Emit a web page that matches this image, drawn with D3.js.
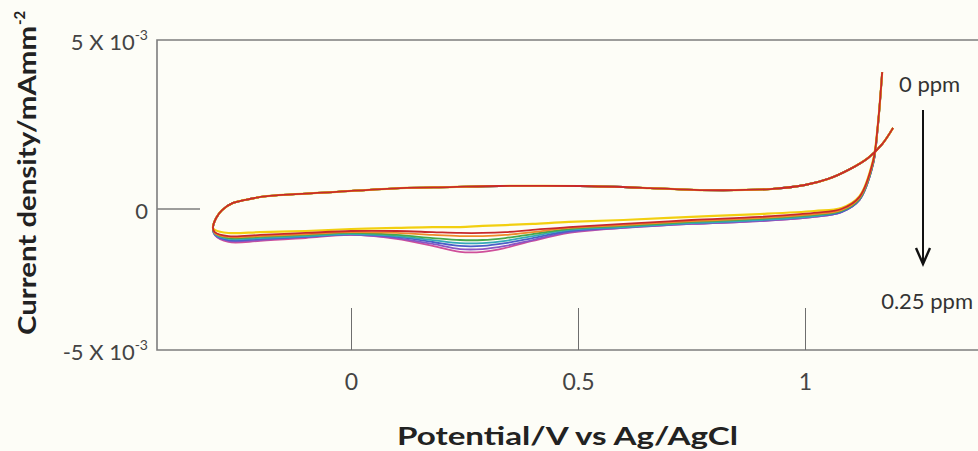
<!DOCTYPE html>
<html>
<head>
<meta charset="utf-8">
<script src="https://cdn.jsdelivr.net/npm/d3@7"></script>
<style>
  html, body { margin: 0; padding: 0; background: #fdfdf7; }
  svg { display: block; font-family: Lato, "Open Sans", sans-serif; }
</style>
</head>
<body>
<svg id="chart" width="978" height="451"></svg>
<script>
// potential (V vs Ag/AgCl) of the shared upper (anodic) branch, right end -> left tip
const upperE = [1.194, 1.170, 1.139, 1.099, 1.051, 1.000, 0.923, 0.769, 0.659, 0.504, 0.328, 0.218, 0.108, -0.040, -0.185, -0.233, -0.260, -0.284, -0.297, -0.304];
const upperJ = [2.40, 1.92, 1.51, 1.18, 0.89, 0.71, 0.59, 0.56, 0.62, 0.68, 0.68, 0.65, 0.62, 0.50, 0.38, 0.27, 0.18, -0.04, -0.32, -0.67];

// potentials of the lower branch, left tip -> steep rise on the right
const lowerE = [-0.30, -0.27, -0.20, -0.10, 0.00, 0.10, 0.18, 0.24, 0.29, 0.34, 0.40, 0.48, 0.60, 0.75, 0.90, 1.02, 1.08, 1.12, 1.15, 1.16, 1.17];

// current density (x 10^-3 mA mm^-2) of each curve's lower branch
const seriesNames = ["magenta", "purple", "blue", "teal", "green", "orange", "yellow", "red"];
const seriesColors = ["#cf4f9a", "#8b55c4", "#4a5fc8", "#35a9b8", "#47a84b", "#ef8a2a", "#f2cf10", "#c8282c"];
const lowerJ = {
  magenta: [-0.92, -1.17, -1.13, -1.03, -0.92, -1.06, -1.31, -1.52, -1.52, -1.38, -1.13, -0.85, -0.67, -0.53, -0.43, -0.28, -0.11, 0.27, 1.33, 2.37, 4.05],
  purple:  [-0.92, -1.13, -1.10, -0.99, -0.92, -1.03, -1.24, -1.42, -1.42, -1.31, -1.10, -0.82, -0.67, -0.53, -0.43, -0.28, -0.11, 0.27, 1.33, 2.37, 4.05],
  blue:    [-0.89, -1.10, -1.06, -0.99, -0.89, -0.99, -1.17, -1.31, -1.31, -1.21, -1.03, -0.78, -0.64, -0.50, -0.39, -0.25, -0.11, 0.27, 1.33, 2.37, 4.05],
  teal:    [-0.89, -1.06, -1.03, -0.96, -0.89, -0.96, -1.10, -1.21, -1.21, -1.13, -0.96, -0.74, -0.64, -0.50, -0.39, -0.25, -0.07, 0.30, 1.36, 2.40, 4.05],
  green:   [-0.85, -1.03, -0.99, -0.92, -0.85, -0.92, -1.03, -1.10, -1.10, -1.03, -0.89, -0.71, -0.60, -0.46, -0.35, -0.21, -0.07, 0.30, 1.36, 2.40, 4.05],
  orange:  [-0.85, -0.99, -0.96, -0.89, -0.82, -0.85, -0.92, -0.96, -0.96, -0.92, -0.82, -0.67, -0.57, -0.43, -0.32, -0.18, -0.04, 0.33, 1.39, 2.40, 4.05],
  yellow:  [-0.74, -0.85, -0.82, -0.78, -0.71, -0.67, -0.64, -0.64, -0.60, -0.57, -0.53, -0.46, -0.39, -0.28, -0.18, -0.07, 0.03, 0.38, 1.45, 2.43, 4.05],
  red:     [-0.82, -0.96, -0.92, -0.85, -0.78, -0.78, -0.82, -0.85, -0.85, -0.82, -0.74, -0.64, -0.53, -0.39, -0.28, -0.14, 0.00, 0.36, 1.42, 2.43, 4.05]
};

const xTicks = [0, 0.5, 1];
const xTickLabels = ["0", "0.5", "1"];
const yTicks = [5, 0, -5];
const yTickLabels = ["5 X 10", "0", "-5 X 10"];
const yTickSup = ["-3", "", "-3"];

const svg = d3.select("#chart");

// frame edges
const frameL = 157, frameR = 978, frameT = 40, frameB = 350;

const x = d3.scaleLinear().domain([0, 1]).range([351, 805]);
// the original axis is not symmetric around 0
const y = d3.scaleLinear().domain([-5, 0, 5]).range([frameB, 209, frameT]);

// frame (left, top, bottom)
svg.append("path")
  .attr("d", `M${frameR},${frameT}H${frameL}V${frameB}H${frameR}`)
  .attr("fill", "none")
  .attr("stroke", "#7d7d7d")
  .attr("stroke-width", 1.6);

// x axis: inward ticks + labels below
const xAxis = d3.axisBottom(x)
  .tickValues(xTicks)
  .tickFormat((d, i) => xTickLabels[i])
  .tickSize(-42)
  .tickPadding(24);

const gx = svg.append("g")
  .attr("transform", `translate(0,${frameB})`)
  .call(xAxis);
gx.select(".domain").remove();
gx.selectAll(".tick line").attr("stroke", "#6e6e6e").attr("stroke-width", 1);
gx.selectAll(".tick text")
  .attr("font-family", "Lato, sans-serif")
  .attr("font-size", 23)
  .attr("fill", "#444");

// zero tick on the y axis
svg.append("line")
  .attr("x1", frameL).attr("x2", frameL + 43)
  .attr("y1", y(0)).attr("y2", y(0))
  .attr("stroke", "#7d7d7d")
  .attr("stroke-width", 1.3);

// y tick labels with superscript exponents
const yLab = svg.selectAll(".ylab")
  .data(yTicks)
  .join("text")
  .attr("class", "ylab")
  .attr("x", 148)
  .attr("y", d => y(d) + 10)
  .attr("text-anchor", "end")
  .attr("font-size", 22)
  .attr("fill", "#444");
yLab.append("tspan").text((d, i) => yTickLabels[i]);
yLab.append("tspan")
  .attr("dy", -10)
  .attr("font-size", 14)
  .text((d, i) => yTickSup[i]);

// axis titles
svg.append("text")
  .attr("x", 397)
  .attr("y", 445)
  .attr("font-size", 25)
  .attr("font-weight", "bold")
  .attr("fill", "#222")
  .attr("textLength", 341)
  .attr("lengthAdjust", "spacingAndGlyphs")
  .text("Potential/V vs Ag/AgCl");

const yTitle = svg.append("g").attr("transform", "rotate(-90)");
yTitle.append("text")
  .attr("x", -335)
  .attr("y", 36)
  .attr("font-size", 25)
  .attr("font-weight", "bold")
  .attr("fill", "#222")
  .attr("textLength", 309)
  .attr("lengthAdjust", "spacingAndGlyphs")
  .text("Current density/mAmm");
yTitle.append("text")
  .attr("x", -25)
  .attr("y", 25)
  .attr("font-size", 15)
  .attr("font-weight", "bold")
  .attr("fill", "#222")
  .text("-2");

// the voltammograms: shared upper branch then each curve's lower branch
const line = d3.line()
  .x(d => x(d[0]))
  .y(d => y(d[1]))
  .curve(d3.curveCatmullRom.alpha(0.5));

const upperPts = upperE.map((e, i) => [e, upperJ[i]]);

seriesNames.forEach((name, k) => {
  const pts = upperPts.concat(lowerE.map((e, i) => [e, lowerJ[name][i]]));
  svg.append("path")
    .datum(pts)
    .attr("d", line)
    .attr("fill", "none")
    .attr("stroke", seriesColors[k])
    .attr("stroke-width", name === "yellow" ? 2.2 : 1.8)
    .attr("stroke-linejoin", "round");
});

// concentration annotation
svg.append("text")
  .attr("x", 899).attr("y", 92)
  .attr("font-size", 22)
  .attr("fill", "#333")
  .text("0 ppm");
svg.append("text")
  .attr("x", 973).attr("y", 309)
  .attr("text-anchor", "end")
  .attr("font-size", 22)
  .attr("fill", "#333")
  .text("0.25 ppm");

svg.append("line")
  .attr("x1", 923).attr("x2", 923)
  .attr("y1", 110).attr("y2", 262)
  .attr("stroke", "#111")
  .attr("stroke-width", 2);
svg.append("path")
  .attr("d", "M916,248L923,264L930,248")
  .attr("fill", "none")
  .attr("stroke", "#111")
  .attr("stroke-width", 2.4)
  .attr("stroke-linejoin", "miter");
</script>
</body>
</html>
